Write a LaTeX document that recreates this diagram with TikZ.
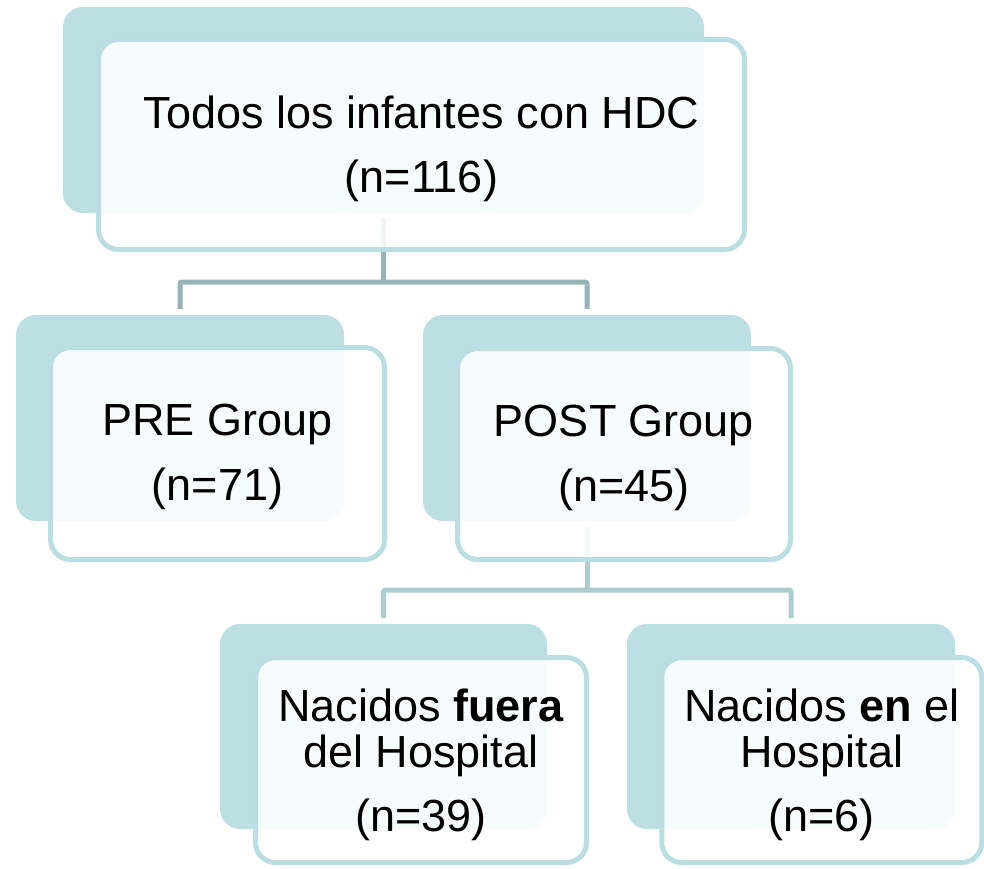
\documentclass[tikz,border=0pt]{standalone}
\usepackage{fontspec}
\setmainfont{Liberation Sans}
\usetikzlibrary{calc}
\definecolor{backfill}{HTML}{BBDFE2}
\definecolor{frontline}{HTML}{BADEE1}
\definecolor{connA}{HTML}{97B3B6}
\definecolor{connB}{HTML}{ABCDCF}
\newcommand{\topstrut}[1]{\rule{0pt}{#1}}
\tikzset{
  backbox/.style={fill=backfill, rounded corners=20pt, inner sep=0pt, outer sep=0pt},
  frontbox/.style={draw=frontline, line width=5pt, fill=white, fill opacity=0.88,
    text opacity=1, rounded corners=20pt, align=center, inner sep=0pt,
    font=\fontsize{45}{46}\selectfont},
  connA/.style={draw=connA, line width=5pt, rounded corners=2pt},
  connB/.style={draw=connB, line width=5pt, rounded corners=2pt},
}
\begin{document}
\begin{tikzpicture}[x=1pt, y=-1pt]
\useasboundingbox (0,0) rectangle (984,868);
% back boxes
\node[backbox, minimum width=641pt, minimum height=206pt] (topB) at (383.5,110) {};
\node[backbox, minimum width=328pt, minimum height=206pt] (preB) at (180,418) {};
\node[backbox, minimum width=328pt, minimum height=206pt] (postB) at (587,418) {};
\node[backbox, minimum width=327pt, minimum height=205pt] (fueraB) at (383.5,726.5) {};
\node[backbox, minimum width=328pt, minimum height=205pt] (enB) at (791,726.5) {};
% connectors
\coordinate (j1) at ($(topB.south)+(0,69)$);
\draw[connA, shorten <=5pt] (topB.south) -- (j1);
\draw[connA, shorten <=6pt, shorten >=6pt] (preB.north) |- (j1) -| (postB.north);
\coordinate (j2) at ($(postB.south)+(0,69)$);
\draw[connB, shorten <=6pt] (postB.south) -- (j2);
\draw[connB, shorten <=6pt, shorten >=6pt] (fueraB.north) |- (j2) -| (enB.north);
% front boxes
\node[frontbox, minimum width=646pt, minimum height=210pt] (topF) at (421.5,144.5)
  {\topstrut{41pt}Todos los infantes con HDC\\[18pt](n=116)};
\node[frontbox, minimum width=334pt, minimum height=212pt] (preF) at (217.5,453.5)
  {\topstrut{39pt}PRE Group\\[19pt](n=71)};
\node[frontbox, minimum width=333pt, minimum height=211pt] (postF) at (624,454)
  {\topstrut{39pt}POST Group\\[19pt](n=45)};
\node[frontbox, minimum width=331pt, minimum height=205pt] (fueraF) at (421,760)
  {\topstrut{42pt}Nacidos \textbf{fuera}\\del Hospital\\[18pt](n=39)};
\node[frontbox, minimum width=320pt, minimum height=205pt] (enF) at (821.75,760)
  {\topstrut{42pt}Nacidos \textbf{en} el\\Hospital\\[18pt](n=6)};
\end{tikzpicture}
\end{document}
